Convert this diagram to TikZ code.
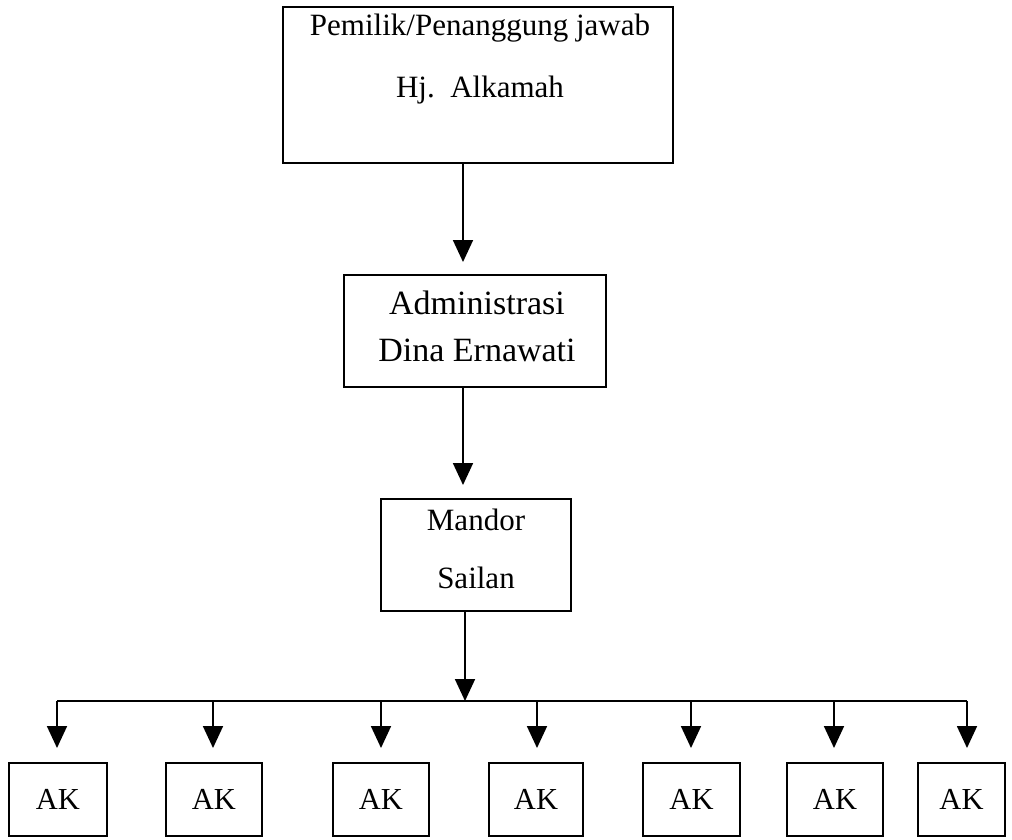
\documentclass[tikz,border=0pt]{standalone}
\usepackage{fontspec}
\setmainfont{Liberation Serif}
\usetikzlibrary{arrows.meta}
\tikzset{
  box/.style={draw, line width=1.5pt, inner sep=0pt},
  akbox/.style={box, minimum width=96pt, minimum height=73pt, font=\fontsize{30.5}{35}\selectfont},
  arrowdown/.style={-{Triangle[width=20pt,length=22pt]}, line width=1.8pt}
}
\begin{document}
\begin{tikzpicture}[x=1pt, y=-1pt]
\useasboundingbox (0,0) rectangle (1012,839);
\node[box, minimum width=390pt, minimum height=156pt] (owner) at (478,85) {};
\node[align=center, font=\fontsize{31}{62}\selectfont] (ownertext) at (480,59) {Pemilik/Penanggung jawab\\Hj.\ \ Alkamah};
\node[box, minimum width=262pt, minimum height=112pt] (admin) at (475,331) {};
\node[align=center, font=\fontsize{34}{47}\selectfont] (admintext) at (477,326) {Administrasi\\Dina Ernawati};
\node[box, minimum width=190pt, minimum height=112pt] (mandor) at (476,555) {};
\node[align=center, font=\fontsize{31}{58}\selectfont] (mandortext) at (476,549) {Mandor\\Sailan};
\node[akbox, minimum width=98pt] (ak1) at (58,799.5) {AK};
\node[akbox] (ak2) at (214,799.5) {AK};
\node[akbox] (ak3) at (381,799.5) {AK};
\node[akbox, minimum width=94pt] (ak4) at (536,799.5) {AK};
\node[akbox, minimum width=97pt] (ak5) at (691.5,799.5) {AK};
\node[akbox] (ak6) at (835,799.5) {AK};
\node[akbox, minimum width=87pt] (ak7) at (961.5,799.5) {AK};
% arrow ends
\coordinate (t1) at (463,262);
\coordinate (t2) at (463,485);
\coordinate (bus) at (465,701);
\coordinate (busL) at (57,701);
\coordinate (busR) at (967,701);
\coordinate (d1) at (57,748);
\coordinate (d2) at (213,748);
\coordinate (d3) at (381,748);
\coordinate (d4) at (537,748);
\coordinate (d5) at (691,748);
\coordinate (d6) at (834,748);
\coordinate (d7) at (967,748);
\draw [arrowdown] (owner.south -| t1) -- (t1);
\draw [arrowdown] (admin.south -| t2) -- (t2);
\draw [arrowdown] (mandor.south -| bus) -- (bus);
\draw [line width=1.8pt] (busL) -- (busR);
\draw [arrowdown] (busL) -- (d1);
\draw [arrowdown] (bus -| d2) -- (d2);
\draw [arrowdown] (bus -| d3) -- (d3);
\draw [arrowdown] (bus -| d4) -- (d4);
\draw [arrowdown] (bus -| d5) -- (d5);
\draw [arrowdown] (bus -| d6) -- (d6);
\draw [arrowdown] (busR) -- (d7);
\end{tikzpicture}
\end{document}
